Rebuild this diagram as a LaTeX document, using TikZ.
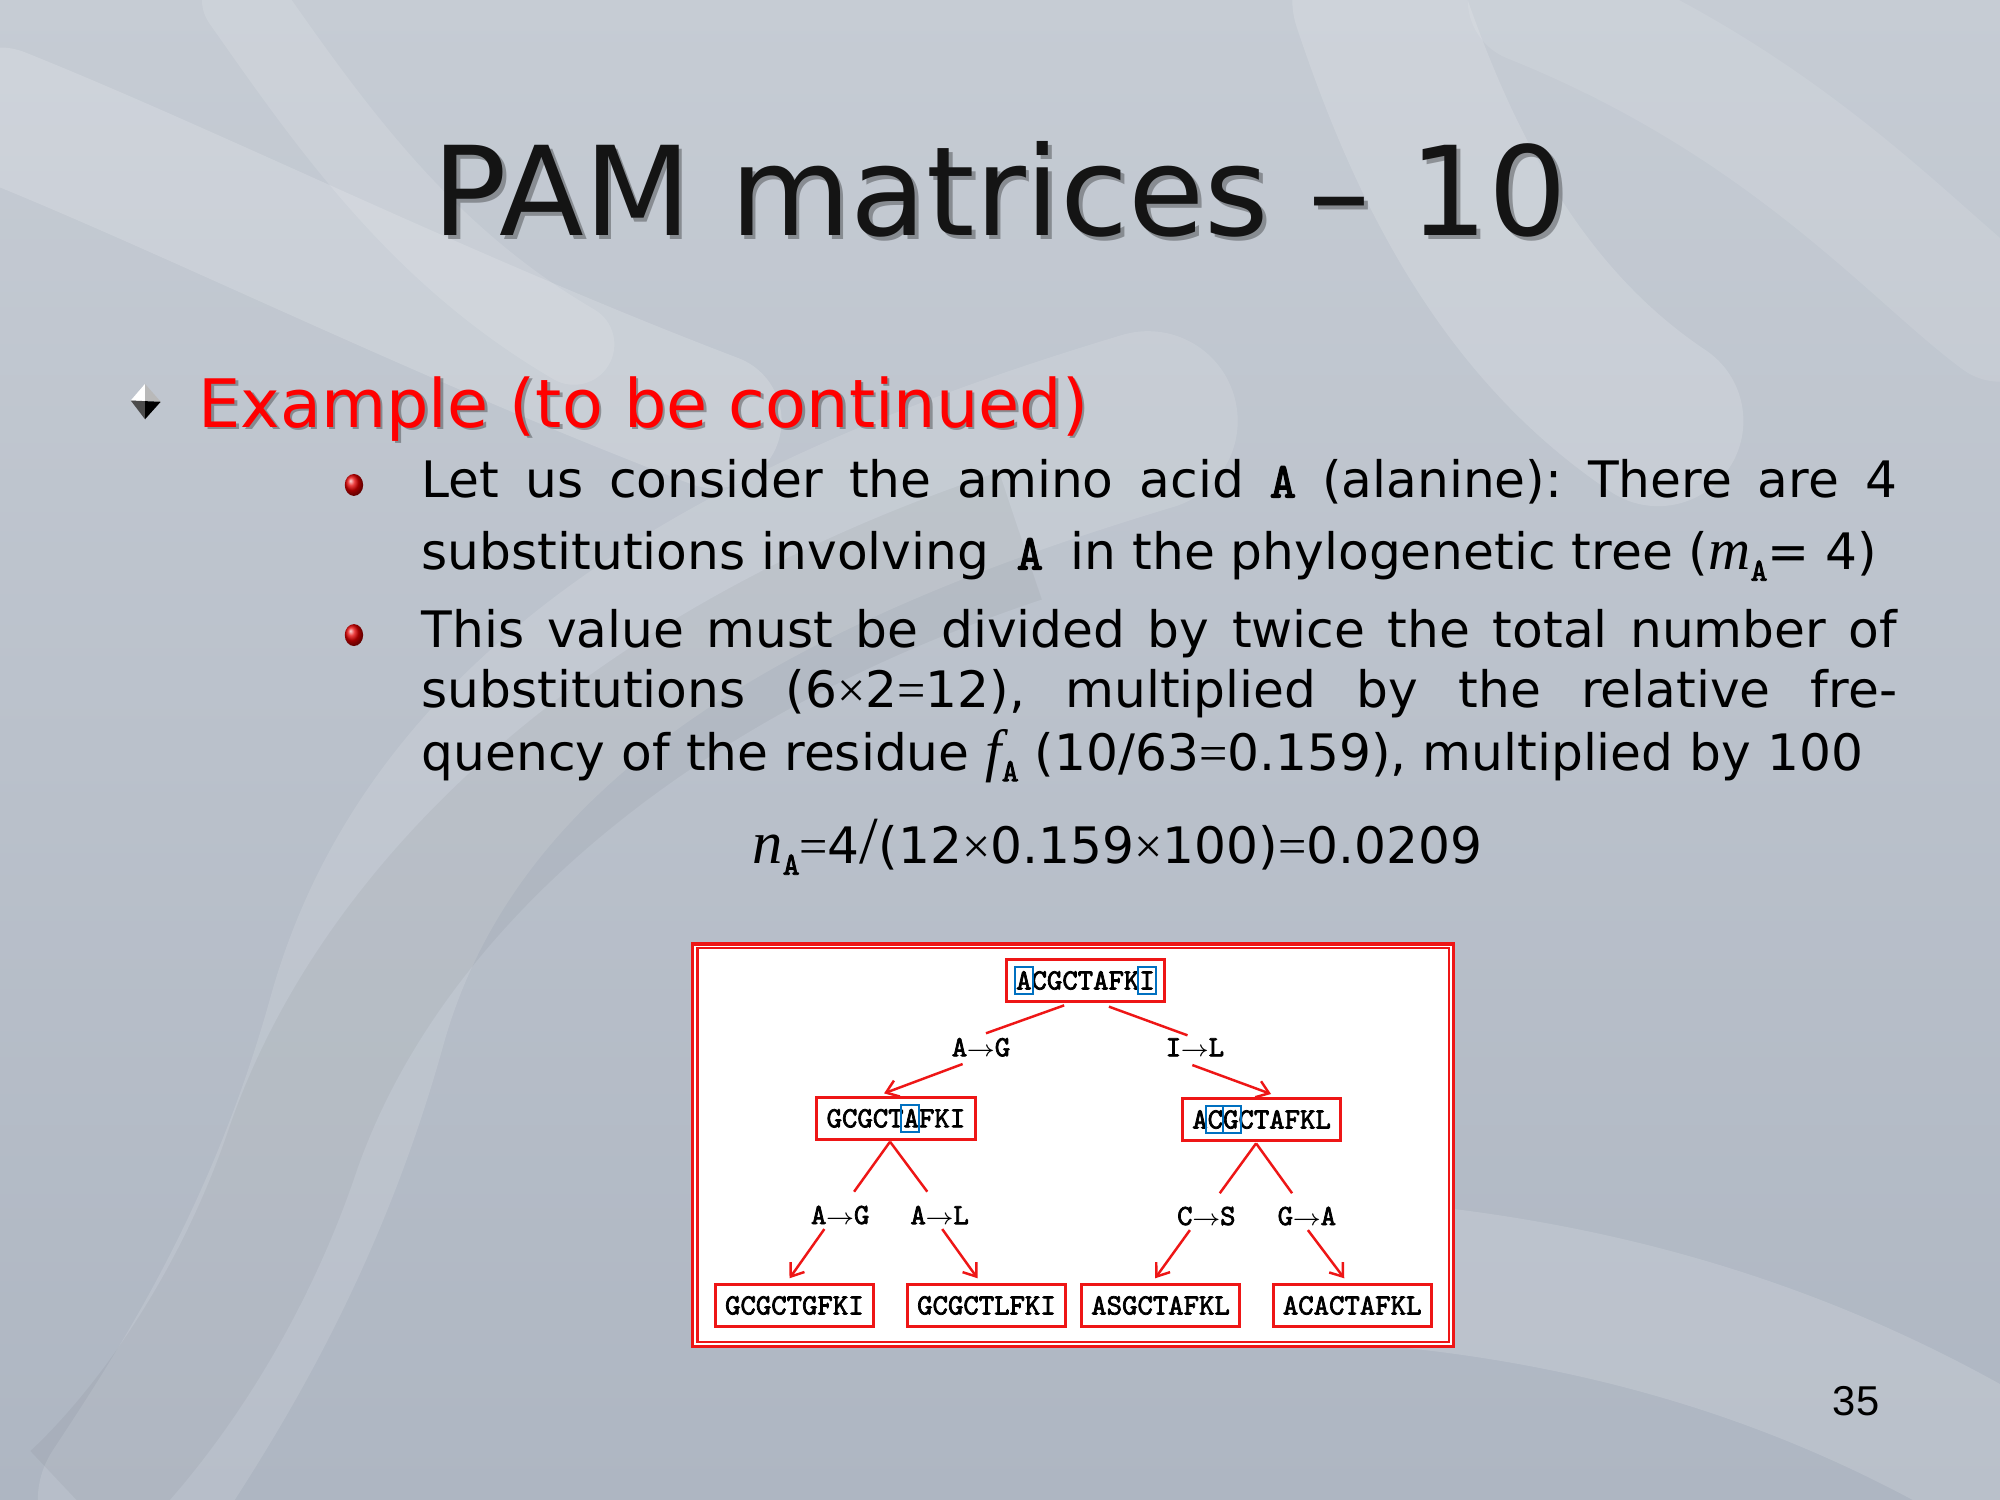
\documentclass[tikz,border=0pt]{standalone}
\usepackage{fontspec}
\setmainfont{DejaVu Sans}
\newfontfamily\timesf{Liberation Serif}
\newfontfamily\arialf{Liberation Sans}
\newfontfamily\courb{lmmono10-regular.otf}[FakeBold=2.5]
\usetikzlibrary{arrows.meta,calc}
\definecolor{bgtop}{RGB}{198,204,212}
\definecolor{bgbot}{RGB}{174,182,194}
\definecolor{pred}{RGB}{238,22,22}
\definecolor{pblue}{RGB}{0,112,192}
\definecolor{exred}{RGB}{255,0,0}
\definecolor{titlec}{RGB}{20,20,20}
\newcommand{\mA}{{\courb A}}
\newcommand{\subA}{\raisebox{-2.5pt}{\courb\fontsize{7.2}{8}\selectfont A}}
\newcommand{\tms}[1]{{\timesf #1}}
\newcommand{\bodyfont}{\fontsize{11.2}{13}\selectfont}
\newcommand{\subst}[2]{#1\kern-0.05em$\scriptstyle\rightarrow$\kern-0.05em#2}
\frenchspacing
\begin{document}
\begin{tikzpicture}[x=0.01cm,y=-0.01cm,
  seqbox/.style={draw=pred, line width=0.65pt, fill=white, minimum width=1.24cm,
    minimum height=0.33cm, inner sep=0pt, font=\courb\fontsize{6.54}{7}\selectfont},
  sublab/.style={inner sep=0pt, font=\courb\fontsize{6.54}{7}\selectfont},
  hlbox/.style={draw=pblue, line width=0.45pt, minimum width=0.137cm, minimum height=0.214cm, inner sep=0pt},
  edge/.style={draw=pred, line width=0.55pt},
  arredge/.style={edge, -{Straight Barb[length=2.6pt,width=3.8pt,line width=0.55pt]}},
  ribbon/.style={white, line cap=round},
  bodyline/.style={anchor=base west, inner sep=0pt, font=\bodyfont, text=black}
]
\useasboundingbox (0,0) rectangle (1568,1176);
% ---------- background ----------
\shade[top color=bgtop, bottom color=bgbot] (0,0) rectangle (1568,1176);
\draw[ribbon, opacity=0.16, line width=30pt] (0,90) .. controls (150,150) and (350,250) .. (560,330);
\draw[ribbon, opacity=0.12, line width=18pt] (190,0) .. controls (260,100) and (330,200) .. (450,270);
\draw[ribbon, opacity=0.12, line width=40pt] (900,330) .. controls (600,420) and (350,550) .. (280,800) .. controls (230,980) and (150,1100) .. (100,1176);
\draw[black, opacity=0.04, line width=30pt] (800,420) .. controls (500,520) and (300,700) .. (230,900) .. controls (190,1020) and (120,1120) .. (60,1176);
\draw[ribbon, opacity=0.15, line width=38pt] (1080,0) .. controls (1120,120) and (1180,250) .. (1300,330);
\draw[ribbon, opacity=0.1, line width=28pt] (1200,0) .. controls (1400,80) and (1500,200) .. (1568,250);
\draw[ribbon, opacity=0.14, line width=32pt] (1100,1000) .. controls (1300,1020) and (1450,1080) .. (1568,1150);
% ---------- title ----------
\node[anchor=base, inner sep=0pt, text=black, opacity=0.3, font=\fontsize{27.6}{30}\selectfont] (titleshadow) at (787,188) {PAM matrices – 10};
\node[anchor=base, inner sep=0pt, text=titlec, font=\fontsize{27.6}{30}\selectfont] (title) at (784,185) {PAM matrices – 10};
% ---------- level 1 bullet ----------
\fill[white] (113.7,301) -- (102.5,314) -- (113.7,314.5) -- cycle;
\fill[gray!55] (113.7,301) -- (113.7,314.5) -- (126,315) -- cycle;
\fill[black!70] (102.5,314) -- (113.7,314.5) -- (113.7,328.7) -- cycle;
\fill[black] (113.7,314.5) -- (126,315) -- (113.7,328.7) -- cycle;
\node[anchor=base west, inner sep=0pt, text=black, opacity=0.3, font=\fontsize{14.9}{17}\selectfont] (exshadow) at (157,337) {Example (to be continued)};
\node[anchor=base west, inner sep=0pt, text=exred, font=\fontsize{14.9}{17}\selectfont] (example) at (155,335) {Example (to be continued)};
% ---------- level 2 bullets ----------
\shade[ball color=red!90!black] (277.5,380.2) ellipse [x radius=0.072cm, y radius=0.086cm];
\shade[ball color=red!90!black] (277.5,497.9) ellipse [x radius=0.072cm, y radius=0.086cm];
% ---------- body text ----------
\node[bodyline] (l1) at (330,390) {\makebox[11.56cm][s]{Let us consider the amino acid \mA{} (alanine): There are 4}};
\node[bodyline] (l2) at (330,446.5) {substitutions involving\hspace{0.55em}\mA\hspace{0.55em}in the phylogenetic tree ({\timesf\itshape\fontsize{13}{14}\selectfont m}\subA= 4)};
\node[bodyline] (l3) at (330,507.5) {\makebox[11.56cm][s]{This value must be divided by twice the total number of}};
\node[bodyline] (l4) at (330,554.5) {\makebox[11.56cm][s]{substitutions (6\tms{×}2\tms{=}12), multiplied by the relative fre-}};
\node[bodyline] (l5) at (330,603.7) {quency of the residue {\timesf\itshape\fontsize{13}{14}\selectfont f}\subA{} (10/63\tms{=}0.159), multiplied by 100};
\node[anchor=base, inner sep=0pt, font=\bodyfont, text=black] (formula) at (876,677) {{\timesf\itshape\fontsize{13.5}{14}\selectfont n}\subA\tms{=}4{\timesf\fontsize{15}{15}\selectfont /}(12\tms{×}0.159\tms{×}100)\tms{=}0.0209};
% ---------- tree figure ----------
\draw[pred, line width=0.8pt, fill=white] (543,740) rectangle (1139.5,1055.8);
\draw[pred, line width=0.5pt] (546.8,743.5) rectangle (1135.8,1052.4);
\node[seqbox] (root) at (851,768.7) {ACGCTAFKI};
\node[seqbox] (lm) at (702.4,876.8) {GCGCTAFKI};
\node[seqbox] (rm) at (989.1,877.7) {ACGCTAFKL};
\node[seqbox] (lf1) at (622.8,1023.5) {GCGCTGFKI};
\node[seqbox] (lf2) at (773.4,1023.5) {GCGCTLFKI};
\node[seqbox] (lf3) at (909.9,1023.5) {ASGCTAFKL};
\node[seqbox] (lf4) at (1060.1,1023.5) {ACACTAFKL};
\node[hlbox] (hr1) at ($(root)+(-48.3,0)$) {};
\node[hlbox] (hr2) at ($(root)+(48.3,0)$) {};
\node[hlbox] (hl1) at ($(lm)+(11,0)$) {};
\node[hlbox] (hm1) at ($(rm)+(-36.8,0)$) {};
\node[hlbox] (hm2) at ($(rm)+(-23.1,0)$) {};
\node[sublab] (tAG) at (769.1,821.1) {\subst{A}{G}};
\node[sublab] (tIL) at (936.8,821.1) {\subst{I}{L}};
\node[sublab] (bAG) at (658.7,952.6) {\subst{A}{G}};
\node[sublab] (bAL) at (736.7,952.6) {\subst{A}{L}};
\node[sublab] (bCS) at (945.8,953.4) {\subst{C}{S}};
\node[sublab] (bGA) at (1024.6,953.4) {\subst{G}{A}};
\draw[edge] ($(root)+(-16.7,19.5)$) -- ($(tAG)+(3.9,-11)$);
\draw[arredge] ($(tAG)+(-14.4,13.1)$) -- ($(lm)+(-9.3,-19.6)$);
\draw[edge] ($(root)+(18.4,20.5)$) -- ($(tIL)+(-5.8,-9.4)$);
\draw[arredge] ($(tIL)+(-2,13.9)$) -- ($(rm)+(7.4,-20)$);
\draw[edge] ($(lm)+(-4.6,18.3)$) -- ($(bAG)+(10.9,-18.3)$);
\draw[edge] ($(lm)+(-4.6,18.3)$) -- ($(bAL)+(-9.7,-18.3)$);
\draw[arredge] ($(bAG)+(-12.4,11)$) -- ($(lf1)+(-3.8,-21.3)$);
\draw[arredge] ($(bAL)+(2,11)$) -- ($(lf2)+(-7,-21.3)$);
\draw[edge] ($(rm)+(-4.3,18.7)$) -- ($(bCS)+(10.5,-17.9)$);
\draw[edge] ($(rm)+(-4.3,18.7)$) -- ($(bGA)+(-11.6,-17.9)$);
\draw[arredge] ($(bCS)+(-12.9,11)$) -- ($(lf3)+(-4.3,-21.3)$);
\draw[arredge] ($(bGA)+(0.8,11)$) -- ($(lf4)+(-6.2,-21.3)$);
% ---------- page number ----------
\node[anchor=base east, inner sep=0pt, font=\arialf\fontsize{9.3}{10}\selectfont, text=black] (pagenum) at (1474,1110) {35};
\end{tikzpicture}
\end{document}
